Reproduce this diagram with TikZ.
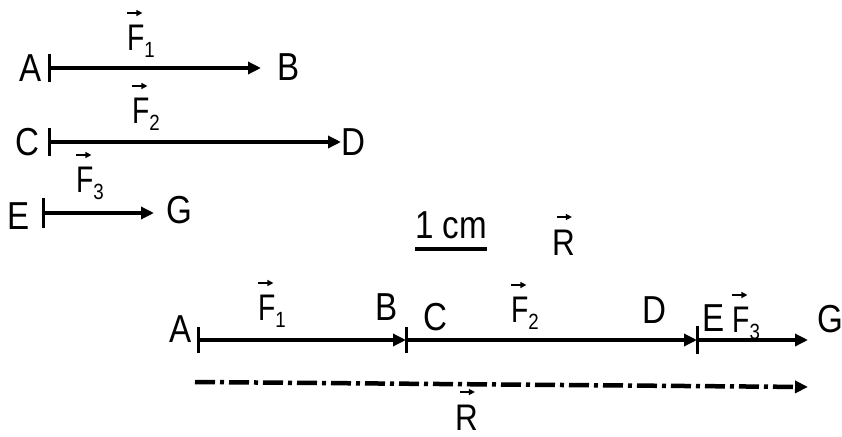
\documentclass[tikz,border=0pt]{standalone}
\usepackage{fontspec}
\setmainfont{Liberation Sans}[FakeStretch=0.85]
\usepackage{graphicx}
\usetikzlibrary{arrows.meta}
\newcommand\smallarrow{\tikz[x=1pt,y=1pt,baseline=0pt]\draw[line width=1.4pt,-{Triangle[length=6pt,width=6pt]}] (0,0) -- (15,0);}
\newcommand\vF[1]{\makebox[0pt][l]{\raisebox{37pt}{\kern-0.5pt\smallarrow}}\scalebox{0.9}[1]{F}\raisebox{-7pt}{\fontsize{22}{22}\selectfont #1}}
\newcommand\vR{\makebox[0pt][l]{\raisebox{38pt}{\kern4pt\smallarrow}}R}
\tikzset{
  lbl/.style={inner sep=0pt, anchor=base, font=\fontsize{39}{39}\selectfont},
  vlbl/.style={inner sep=0pt, anchor=base west, font=\fontsize{37}{37}\selectfont},
  vec/.style={line width=3.5pt, -{Triangle[length=13pt,width=12pt]}},
  tickmark/.style={line width=3pt},
  resultant/.style={line width=4.5pt, dash pattern=on 20pt off 5pt on 4pt off 5pt, -{Triangle[length=13pt,width=12pt]}}
}
\begin{document}
\begin{tikzpicture}[x=1pt,y=-1pt]
\useasboundingbox (0,0) rectangle (842,436);
% ---------- top: individual vectors ----------
\coordinate (A1) at (49,68);
\coordinate (B1) at (261,68);
\coordinate (C1) at (49,142);
\coordinate (D1) at (341,142);
\coordinate (E1) at (43,213);
\coordinate (G1) at (154,213);
\draw[vec] (A1) -- (B1);
\draw[vec] (C1) -- (D1);
\draw[vec] (E1) -- (G1);
\draw[tickmark] ([yshift=14pt]A1) -- ([yshift=-14pt]A1);
\draw[tickmark] ([yshift=14pt]C1) -- ([yshift=-14pt]C1);
\draw[tickmark] ([yshift=15pt]E1) -- ([yshift=-15pt]E1);
\node[lbl] (la1) at (31,81) {A};
\node[lbl] (lb1) at (289,80) {B};
\node[lbl] (lc1) at (27,155) {C};
\node[lbl] (ld1) at (353,155) {D};
\node[lbl] (le1) at (19,229) {E};
\node[lbl] (lg1) at (179,223) {G};
\node[vlbl] (f1a) at (127,50) {\vF{1}};
\node[vlbl] (f2a) at (132,123) {\vF{2}};
\node[vlbl] (f3a) at (76,192) {\vF{3}};
% ---------- scale and resultant label ----------
\node[lbl] (scale) at (451,238) {1 cm};
\coordinate (S1) at (415,249);
\coordinate (S2) at (487,249);
\draw[line width=4pt] (S1) -- (S2);
\node[vlbl] (rtop) at (552,255) {\vR};
% ---------- bottom: head-to-tail sum ----------
\coordinate (A2) at (198,340);
\coordinate (B2) at (406,340);
\coordinate (D2) at (697,340);
\coordinate (G2) at (808,340);
\draw[vec] (A2) -- (B2);
\draw[vec] (B2) -- (D2);
\draw[vec] (D2) -- (G2);
\draw[tickmark] ([yshift=13pt]A2) -- ([yshift=-13pt]A2);
\draw[tickmark] ([yshift=13pt]B2) -- ([yshift=-13pt]B2);
\draw[tickmark] ([yshift=14pt]D2) -- ([yshift=-14pt]D2);
\node[lbl] (la2) at (181,342) {A};
\node[lbl] (lb2) at (387,320) {B};
\node[lbl] (lc2) at (435,330) {C};
\node[lbl] (ld2) at (654,323) {D};
\node[lbl] (le2) at (714,331) {E};
\node[lbl] (lg2) at (830,332) {G};
\node[vlbl] (f1b) at (258,320) {\vF{1}};
\node[vlbl] (f2b) at (511,322) {\vF{2}};
\node[vlbl] (f3b) at (732,332) {\vF{3}};
\coordinate (R1) at (195,382);
\coordinate (R2) at (808,387);
\draw[resultant] (R1) -- (R2);
\node[vlbl] (rbot) at (455,430) {\vR};
\end{tikzpicture}
\end{document}
